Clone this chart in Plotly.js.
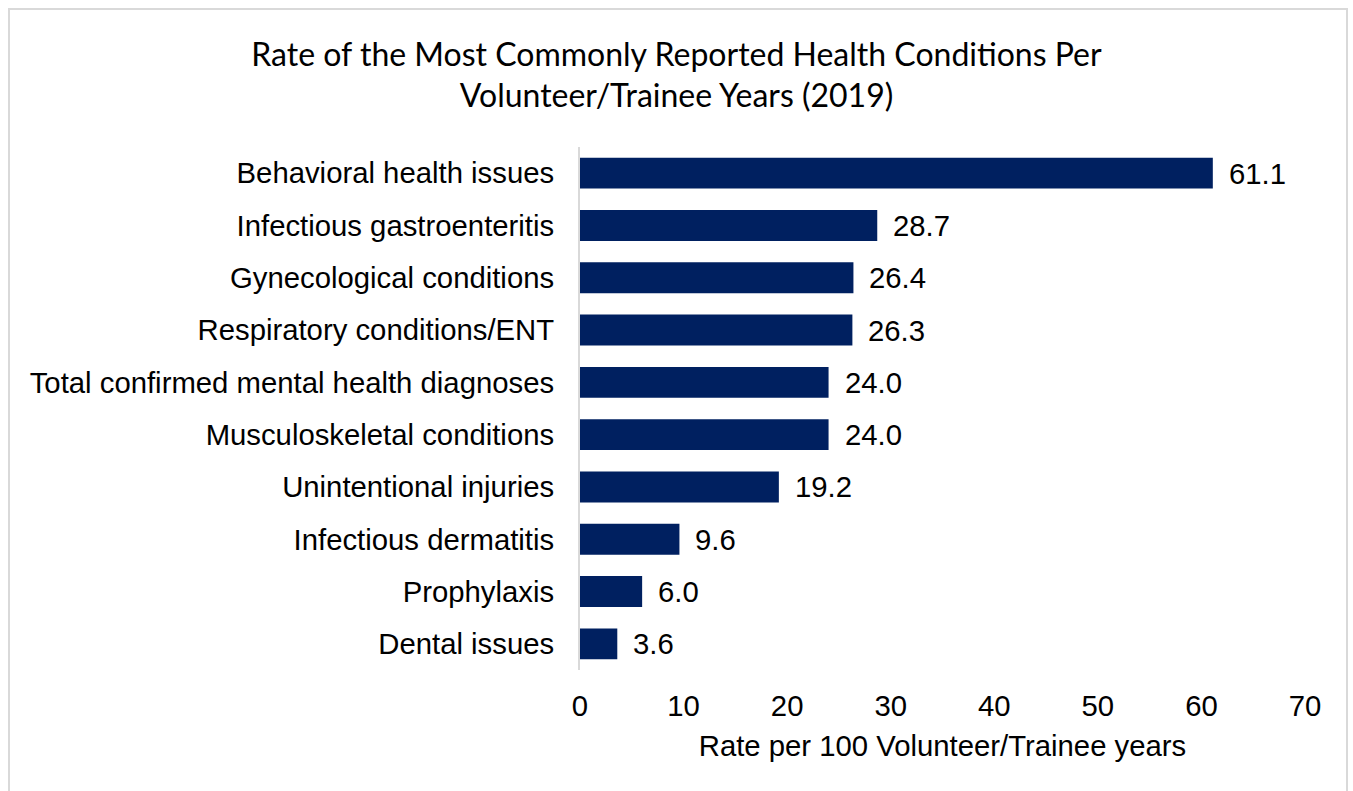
<!DOCTYPE html>
<html><head><meta charset="utf-8">
<script src="https://cdn.plot.ly/plotly-3.0.1.min.js"></script>
<style>
body{margin:0;padding:0;background:#fff;overflow:hidden;}
#frame{position:absolute;left:8px;top:8px;width:1340px;height:820px;border:2px solid #d9d9d9;box-sizing:border-box;pointer-events:none;z-index:5;}
#chart{position:absolute;left:0;top:0;width:1353px;height:791px;}
</style></head>
<body>
<div id="chart"></div>
<div id="frame"></div>
<script>
const categories = [
  "Behavioral health issues",
  "Infectious gastroenteritis",
  "Gynecological conditions",
  "Respiratory conditions/ENT",
  "Total confirmed mental health diagnoses",
  "Musculoskeletal conditions",
  "Unintentional injuries",
  "Infectious dermatitis",
  "Prophylaxis",
  "Dental issues"
];
const rates = [61.1, 28.7, 26.4, 26.3, 24.0, 24.0, 19.2, 9.6, 6.0, 3.6];
const tickValues = [0, 10, 20, 30, 40, 50, 60, 70];

const labelFont = {family: "Liberation Sans, Arial, sans-serif", size: 29.3, color: "#000"};

const trace = {
  type: "bar",
  orientation: "h",
  x: rates,
  y: categories,
  marker: {color: "#002060", line: {width: 0}},
  hoverinfo: "skip"
};

const annotations = rates.map((v, i) => ({
  x: v, y: categories[i], xref: "x", yref: "y",
  text: v.toFixed(1), showarrow: false,
  xanchor: "left", yanchor: "middle", xshift: 14,
  font: labelFont
}));

const layout = {
  width: 1353, height: 791,
  margin: {l: 580, r: 48, t: 147, b: 121, pad: 0},
  paper_bgcolor: "#fff", plot_bgcolor: "#fff",
  showlegend: false,
  bargap: 0.41,
  title: {
    text: "Rate of the Most Commonly Reported Health Conditions Per<br>Volunteer/Trainee Years (2019)",
    font: {family: "Lato, sans-serif", size: 32, color: "#000"},
    x: 0.5, xanchor: "center", y: 0.917, yanchor: "top"
  },
  xaxis: {
    range: [0, 70],
    tickvals: tickValues,
    ticktext: tickValues.map(String),
    showgrid: false, zeroline: false, showline: false,
    ticks: "", ticklen: 0,
    tickfont: labelFont,
    ticklabelstandoff: 16,
    title: {text: "Rate per 100 Volunteer/Trainee years", font: labelFont, standoff: 14},
    fixedrange: true
  },
  yaxis: {
    autorange: "reversed",
    showgrid: false, zeroline: false,
    showline: true, linecolor: "#d9d9d9", linewidth: 2,
    ticks: "", tickfont: labelFont,
    ticklabelstandoff: 18,
    fixedrange: true
  },
  annotations: annotations
};

Plotly.newPlot("chart", [trace], layout, {displayModeBar: false, staticPlot: true});
</script>
</body></html>
